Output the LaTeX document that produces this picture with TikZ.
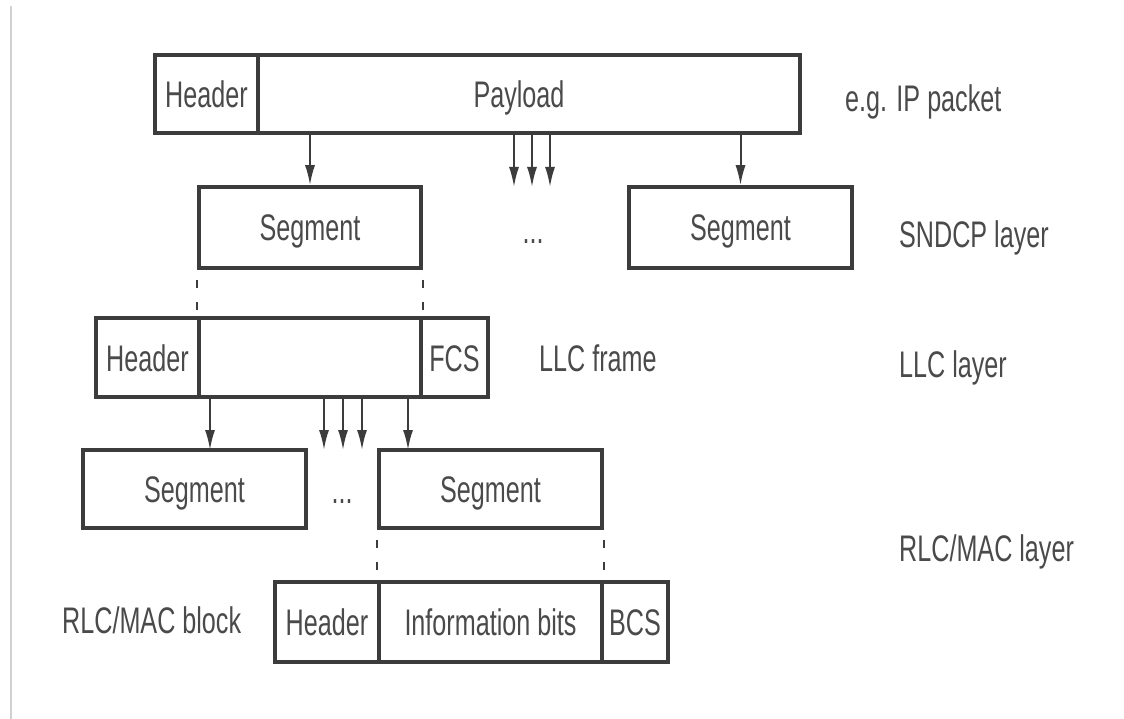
\documentclass[tikz,border=0pt]{standalone}
\usepackage{fontspec}
\setmainfont{Liberation Sans}[FakeStretch=0.68]
\usetikzlibrary{arrows.meta}
\definecolor{ink}{HTML}{3C3C3C}
\definecolor{txt}{HTML}{4A4A4A}
\begin{document}
\begin{tikzpicture}[x=1pt,y=-1pt,
  every node/.style={text=txt,font=\fontsize{37}{42}\selectfont,text height=27pt,text depth=0pt},
  cell/.style={draw=ink,line width=3.5pt,inner sep=0pt,anchor=center},
  arr/.style={draw=ink,line width=2pt,-{Latex[length=20pt,width=10pt]}},
  guide/.style={draw=ink,line width=1.8pt,dash pattern=on 8pt off 14pt,dash phase=-10pt},
  lab/.style={anchor=west,inner sep=0pt},
  dots/.style={anchor=base,inner sep=0pt,text height=,text depth=}]
\useasboundingbox[fill=white] (0,0) rectangle (1124,719);
\draw[black!18,line width=1.5pt] (11,6) -- (11,719);
% top packet
\node[cell,minimum width=103pt,minimum height=78pt] (hdr0) at (206.5,94) {Header};
\node[cell,minimum width=542pt,minimum height=78pt] (payload) at (529,94) {\hspace*{-20pt}Payload};
\node[lab] (ip) at (845,98) {e.g. IP packet};
% SNDCP segments
\node[cell,minimum width=222pt,minimum height=81pt] (seg1) at (310,227.5) {Segment};
\node[cell,minimum width=223pt,minimum height=81pt] (seg2) at (740.5,227.5) {Segment};
\node[dots] (dots1) at (533,244) {...};
\node[lab] (sndcp) at (899,234) {SNDCP layer};
\coordinate (m1) at (514,187);
\coordinate (m2) at (532,187);
\coordinate (m3) at (550,187);
\draw[arr] (payload.south -| seg1.north) -- (seg1.north);
\draw[arr] (payload.south -| m1) -- (m1);
\draw[arr] (payload.south -| m2) -- (m2);
\draw[arr] (payload.south -| m3) -- (m3);
\draw[arr] (payload.south -| seg2.north) -- (seg2.north);
% LLC frame
\node[cell,minimum width=103pt,minimum height=79pt] (hdr1) at (147.5,357.5) {Header};
\node[cell,minimum width=222pt,minimum height=79pt] (llcmid) at (310,357.5) {};
\node[cell,minimum width=67pt,minimum height=79pt] (fcs) at (454.5,357.5) {FCS};
\node[lab] (llcf) at (539,358) {LLC frame};
\node[lab] (llcl) at (899,364) {LLC layer};
\draw[guide] (seg1.south west) -- (llcmid.north west);
\draw[guide] (seg1.south east) -- (llcmid.north east);
% RLC segments
\node[cell,minimum width=223pt,minimum height=78pt] (rseg1) at (194.5,489) {Segment};
\node[cell,minimum width=223pt,minimum height=78pt] (rseg2) at (490.5,489) {Segment};
\node[dots] (dots2) at (342,503) {...};
\node[lab] (rlcl) at (899,548) {RLC/MAC layer};
\coordinate (a1) at (210,450);
\coordinate (a2) at (324,450);
\coordinate (a3) at (343,450);
\coordinate (a4) at (362,450);
\coordinate (a5) at (408,450);
\foreach \c in {a1,a2,a3,a4,a5}{\draw[arr] (llcmid.south -| \c) -- (\c);}
% RLC/MAC block
\node[cell,minimum width=104pt,minimum height=80pt] (hdr2) at (327,622) {Header};
\node[cell,minimum width=223pt,minimum height=80pt] (info) at (490.5,622) {Information bits};
\node[cell,minimum width=66pt,minimum height=80pt] (bcs) at (635,622) {BCS};
\node[lab] (blk) at (62,620) {RLC/MAC block};
\draw[guide] (rseg2.south west) -- (info.north west);
\draw[guide] (rseg2.south east) -- (info.north east);
\end{tikzpicture}
\end{document}
